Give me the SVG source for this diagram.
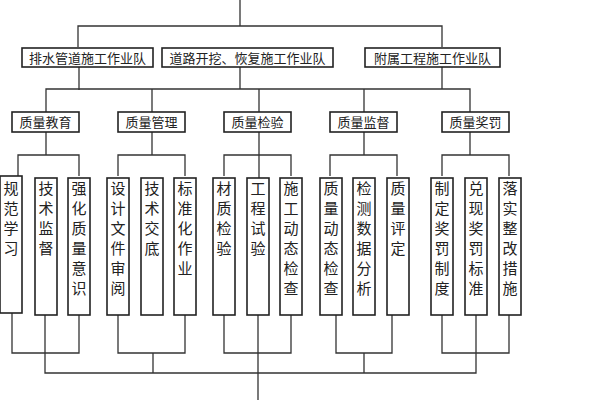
<svg xmlns="http://www.w3.org/2000/svg" width="600" height="400" viewBox="0 0 600 400">
<style>
rect{fill:#fff;stroke:#222;stroke-width:1.6}
.c{fill:none;stroke:#333;stroke-width:1.3}
text{font-family:"Noto Sans CJK SC",sans-serif;fill:#222;text-anchor:middle}
.t1{font-size:13px}.t2{font-size:13px}.t3{font-size:15px}
</style>
<rect width="600" height="400" style="fill:#fff;stroke:none"/>
<g id="connectors">
<path class="c" d="M240 0V26M78 47V26H442V47M79 67V90M240 67V89M442 67V89M46 112V89H470V112M152 89V112M259 89V112M364 89V112"/>
<path class="c" d="M46 132V155M18 176V155H79V176M152 132V155M118 176V155H185V176M259 132V178M224 176V155H291V176M364 132V155M330 176V155H397V176M470 132V155M442 176V155H509V176"/>
<path class="c" d="M12 313V353H79V315M118 315V353H185V315M224 315V353H291V315M336 315V353H392V315M442 315V353H509V315"/>
<path class="c" d="M45 315V373H476V315M153 353V373M364 353V373M258 315V400"/>
</g>
<g id="n0"><rect x="22" y="48" width="131" height="19"/><text class="t1" x="87.5" y="62.5">排水管道施工作业队</text></g>
<g id="n1"><rect x="162" y="48" width="171" height="19"/><text class="t1" x="247.5" y="62.5">道路开挖、恢复施工作业队</text></g>
<g id="n2"><rect x="365" y="48" width="135" height="19"/><text class="t1" x="432.5" y="62.5">附属工程施工作业队</text></g>
<g id="q0"><rect x="12" y="112" width="67" height="20"/><text class="t2" x="45.5" y="126.5">质量教育</text></g>
<g id="q1"><rect x="118" y="112" width="67" height="20"/><text class="t2" x="151.5" y="126.5">质量管理</text></g>
<g id="q2"><rect x="224" y="112" width="67" height="20"/><text class="t2" x="257.5" y="126.5">质量检验</text></g>
<g id="q3"><rect x="330" y="112" width="67" height="20"/><text class="t2" x="363.5" y="126.5">质量监督</text></g>
<g id="q4"><rect x="442" y="112" width="67" height="20"/><text class="t2" x="475.5" y="126.5">质量奖罚</text></g>
<g id="l0"><rect x="0" y="176" width="22" height="137"/><text class="t3" x="11" y="194">规<tspan x="11" dy="20">范</tspan><tspan x="11" dy="20">学</tspan><tspan x="11" dy="20">习</tspan></text></g>
<g id="l1"><rect x="35" y="178" width="22" height="137"/><text class="t3" x="46" y="194">技<tspan x="46" dy="20">术</tspan><tspan x="46" dy="20">监</tspan><tspan x="46" dy="20">督</tspan></text></g>
<g id="l2"><rect x="68" y="178" width="22" height="137"/><text class="t3" x="79" y="194">强<tspan x="79" dy="20">化</tspan><tspan x="79" dy="20">质</tspan><tspan x="79" dy="20">量</tspan><tspan x="79" dy="20">意</tspan><tspan x="79" dy="20">识</tspan></text></g>
<g id="l3"><rect x="107" y="178" width="22" height="137"/><text class="t3" x="118" y="194">设<tspan x="118" dy="20">计</tspan><tspan x="118" dy="20">文</tspan><tspan x="118" dy="20">件</tspan><tspan x="118" dy="20">审</tspan><tspan x="118" dy="20">阅</tspan></text></g>
<g id="l4"><rect x="141" y="178" width="22" height="137"/><text class="t3" x="152" y="194">技<tspan x="152" dy="20">术</tspan><tspan x="152" dy="20">交</tspan><tspan x="152" dy="20">底</tspan></text></g>
<g id="l5"><rect x="174" y="178" width="22" height="137"/><text class="t3" x="185" y="194">标<tspan x="185" dy="20">准</tspan><tspan x="185" dy="20">化</tspan><tspan x="185" dy="20">作</tspan><tspan x="185" dy="20">业</tspan></text></g>
<g id="l6"><rect x="213" y="178" width="22" height="137"/><text class="t3" x="224" y="194">材<tspan x="224" dy="20">质</tspan><tspan x="224" dy="20">检</tspan><tspan x="224" dy="20">验</tspan></text></g>
<g id="l7"><rect x="247" y="178" width="22" height="137"/><text class="t3" x="258" y="194">工<tspan x="258" dy="20">程</tspan><tspan x="258" dy="20">试</tspan><tspan x="258" dy="20">验</tspan></text></g>
<g id="l8"><rect x="280" y="178" width="22" height="137"/><text class="t3" x="291" y="194">施<tspan x="291" dy="20">工</tspan><tspan x="291" dy="20">动</tspan><tspan x="291" dy="20">态</tspan><tspan x="291" dy="20">检</tspan><tspan x="291" dy="20">查</tspan></text></g>
<g id="l9"><rect x="320" y="178" width="22" height="137"/><text class="t3" x="331" y="194">质<tspan x="331" dy="20">量</tspan><tspan x="331" dy="20">动</tspan><tspan x="331" dy="20">态</tspan><tspan x="331" dy="20">检</tspan><tspan x="331" dy="20">查</tspan></text></g>
<g id="l10"><rect x="353" y="178" width="22" height="137"/><text class="t3" x="364" y="194">检<tspan x="364" dy="20">测</tspan><tspan x="364" dy="20">数</tspan><tspan x="364" dy="20">据</tspan><tspan x="364" dy="20">分</tspan><tspan x="364" dy="20">析</tspan></text></g>
<g id="l11"><rect x="387" y="178" width="22" height="137"/><text class="t3" x="398" y="194">质<tspan x="398" dy="20">量</tspan><tspan x="398" dy="20">评</tspan><tspan x="398" dy="20">定</tspan></text></g>
<g id="l12"><rect x="431" y="178" width="22" height="137"/><text class="t3" x="442" y="194">制<tspan x="442" dy="20">定</tspan><tspan x="442" dy="20">奖</tspan><tspan x="442" dy="20">罚</tspan><tspan x="442" dy="20">制</tspan><tspan x="442" dy="20">度</tspan></text></g>
<g id="l13"><rect x="465" y="178" width="22" height="137"/><text class="t3" x="476" y="194">兑<tspan x="476" dy="20">现</tspan><tspan x="476" dy="20">奖</tspan><tspan x="476" dy="20">罚</tspan><tspan x="476" dy="20">标</tspan><tspan x="476" dy="20">准</tspan></text></g>
<g id="l14"><rect x="499" y="178" width="22" height="137"/><text class="t3" x="510" y="194">落<tspan x="510" dy="20">实</tspan><tspan x="510" dy="20">整</tspan><tspan x="510" dy="20">改</tspan><tspan x="510" dy="20">措</tspan><tspan x="510" dy="20">施</tspan></text></g>
</svg>
